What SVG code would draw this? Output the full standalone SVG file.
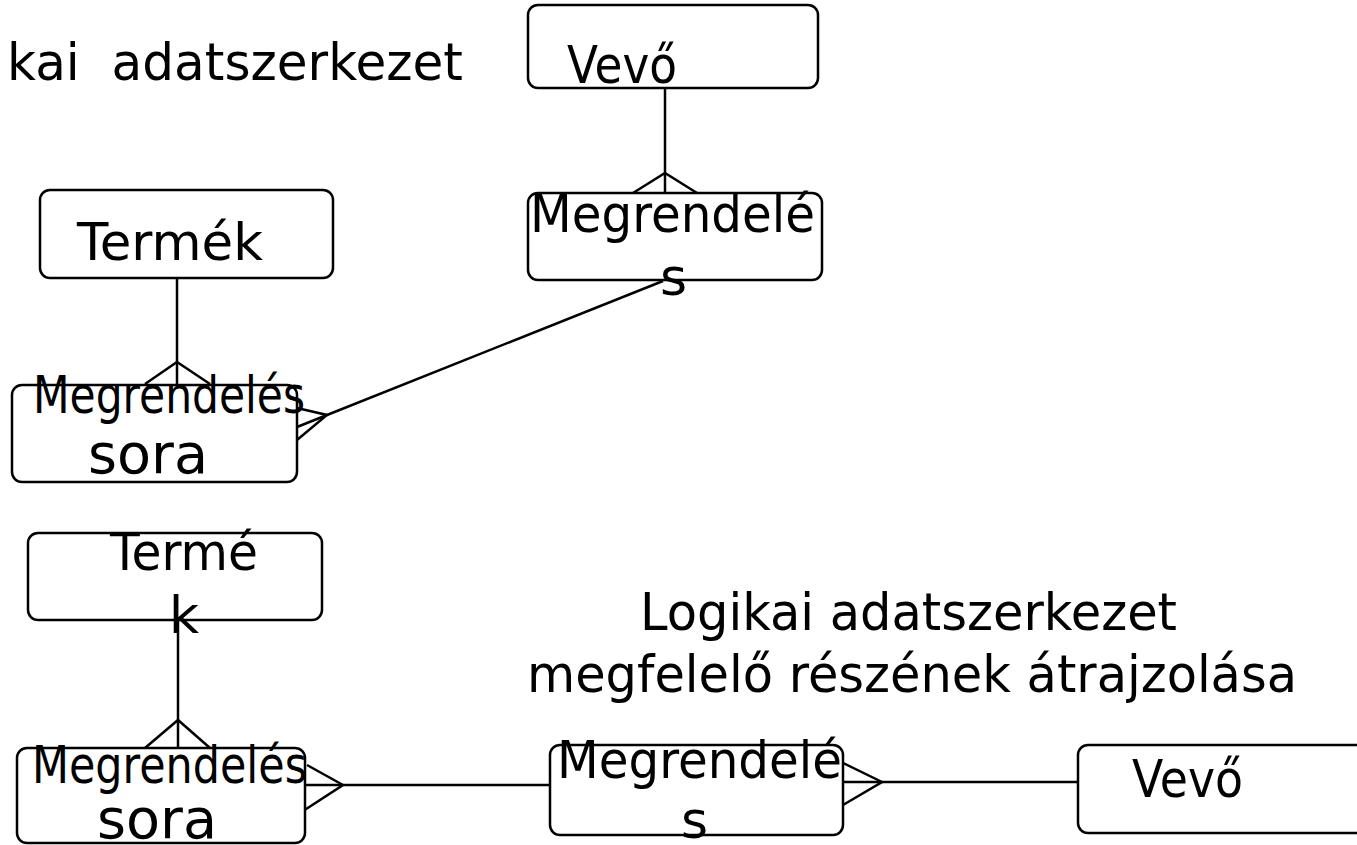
<svg xmlns="http://www.w3.org/2000/svg" width="1357" height="845" viewBox="0 0 1357 845">
<style>
.box{fill:#fff;stroke:#000;stroke-width:2.5}
.lbl{font-family:"DejaVu Sans",sans-serif;font-size:52px;fill:#000}
.big{font-size:55px}
.ttl{font-family:"DejaVu Sans",sans-serif;font-size:52px;fill:#000}
.c line,.c polyline{stroke:#000;stroke-width:2.5;fill:none}
</style>
<rect width="1357" height="845" fill="#fff"/>
<g id="title1"><text class="ttl" x="7" y="80" textLength="456" lengthAdjust="spacingAndGlyphs" xml:space="preserve">kai  adatszerkezet</text></g>
<g id="title2">
<text class="ttl" x="640" y="630" textLength="537" lengthAdjust="spacingAndGlyphs">Logikai adatszerkezet</text>
<text class="ttl" x="527" y="692" textLength="770" lengthAdjust="spacingAndGlyphs">megfelelő részének átrajzolása</text>
</g>
<g class="c" id="connectors">
<line x1="665" y1="88" x2="665" y2="193"/>
<polyline points="633,193 665,173 697,193"/>
<line x1="177" y1="278" x2="177" y2="385"/>
<polyline points="145,384 177,362 210,384"/>
<line x1="663" y1="281" x2="327" y2="415"/>
<polyline points="297,408 327,415 297,440"/>
<line x1="297" y1="427" x2="327" y2="415"/>
<line x1="178" y1="620" x2="178" y2="748"/>
<polyline points="145,748 178,720 210,748"/>
<line x1="305" y1="785" x2="550" y2="785"/>
<polyline points="307,765 343,785 300,813"/>
<line x1="843" y1="782" x2="1078" y2="782"/>
<polyline points="843,763 882,782 843,805"/>
</g>
<g id="vevo1"><rect class="box" x="528" y="5" width="290" height="83" rx="10"/><text class="lbl" x="567" y="83" textLength="110" lengthAdjust="spacingAndGlyphs">Vevő</text></g>
<g id="megrendeles1"><rect class="box" x="528" y="193" width="294" height="87" rx="10"/><text class="lbl" x="530" y="232" textLength="285" lengthAdjust="spacingAndGlyphs">Megrendelé</text><text class="lbl" x="660" y="295">s</text></g>
<g id="termek1"><rect class="box" x="40" y="190" width="293" height="88" rx="10"/><text class="lbl" x="77" y="260" textLength="186" lengthAdjust="spacingAndGlyphs">Termék</text></g>
<g id="sora1"><rect class="box" x="12" y="385" width="285" height="97" rx="10"/><text class="lbl" x="33" y="413" textLength="272" lengthAdjust="spacingAndGlyphs">Megrendelés</text><text class="lbl big" x="88" y="473" textLength="120" lengthAdjust="spacingAndGlyphs">sora</text></g>
<g id="termek2"><rect class="box" x="28" y="533" width="294" height="87" rx="10"/><text class="lbl" x="110" y="570" textLength="148" lengthAdjust="spacingAndGlyphs">Termé</text><text class="lbl" x="169" y="633">k</text></g>
<g id="sora2"><rect class="box" x="17" y="748" width="288" height="95" rx="10"/><text class="lbl" x="32" y="783" textLength="275" lengthAdjust="spacingAndGlyphs">Megrendelés</text><text class="lbl big" x="97" y="838" textLength="120" lengthAdjust="spacingAndGlyphs">sora</text></g>
<g id="megrendeles2"><rect class="box" x="550" y="745" width="293" height="90" rx="10"/><text class="lbl" x="557" y="778" textLength="285" lengthAdjust="spacingAndGlyphs">Megrendelé</text><text class="lbl" x="681" y="838">s</text></g>
<g id="vevo2"><rect class="box" x="1078" y="745" width="300" height="88" rx="10"/><text class="lbl" x="1132" y="797" textLength="111" lengthAdjust="spacingAndGlyphs">Vevő</text></g>
</svg>
